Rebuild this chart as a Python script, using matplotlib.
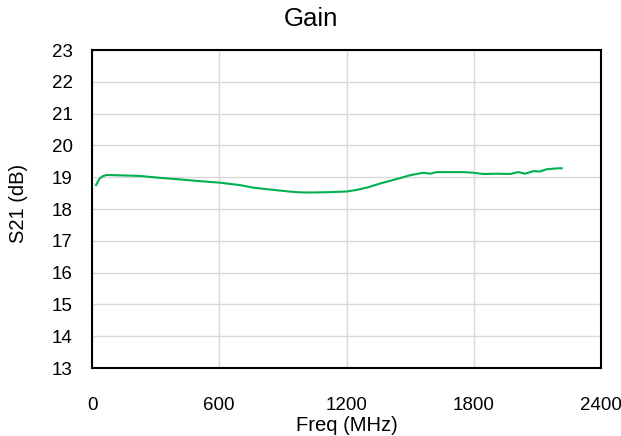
import matplotlib
matplotlib.use("Agg")
import matplotlib.pyplot as plt

freq = [19, 35, 50, 69, 120, 226, 320, 415, 500, 600, 700, 761, 830, 886, 930, 965, 1000, 1043,
        1122, 1200, 1248, 1300, 1358, 1452, 1499, 1562, 1594, 1625, 1700, 1751, 1800, 1845,
        1908, 1971, 2010, 2042, 2081, 2112, 2144, 2199, 2215]
gain = [18.75, 18.95, 19.03, 19.07, 19.06, 19.04, 18.98, 18.93, 18.88, 18.83, 18.75, 18.67, 18.62,
        18.58, 18.55, 18.53, 18.52, 18.52, 18.53, 18.55, 18.6, 18.68, 18.8, 18.97, 19.06, 19.14,
        19.11, 19.16, 19.16, 19.16, 19.14, 19.1, 19.11, 19.1, 19.16, 19.11, 19.19, 19.18, 19.25,
        19.28, 19.28]

xticks = [0, 600, 1200, 1800, 2400]
yticks = list(range(13, 24))

plt.rcParams['font.family'] = ['Liberation Sans', 'DejaVu Sans']

fig = plt.figure(figsize=(6.21, 4.36), dpi=100)
ax = fig.add_axes([92/621, 1-368/436, 509/621, 318/436])
ax.plot(freq, gain, color='#00B050', linewidth=1.5)
ax.set_xlim(0, 2400)
ax.set_ylim(13, 23)
ax.set_xticks(xticks)
ax.set_yticks(yticks)
ax.grid(True, color='#d9d9d9', linewidth=1)
ax.set_axisbelow(True)
ax.tick_params(length=0, labelsize=13.5)
ax.tick_params(axis='x', pad=21)
ax.tick_params(axis='y', pad=14)
for s in ax.spines.values():
    s.set_color('black')
    s.set_linewidth(1.5)
ax.set_xlabel('Freq (MHz)', fontsize=14.5, va='center')
ax.xaxis.set_label_coords(0.5, (368-425)/318)
ax.set_ylabel('S21 (dB)', fontsize=14.5, va='center')
ax.yaxis.set_label_coords((19-92)/509, (368-203)/318)
fig.text(0.5, 1-19/436, 'Gain', ha='center', va='center', fontsize=18.5)
fig.savefig('out.png', dpi=100)
